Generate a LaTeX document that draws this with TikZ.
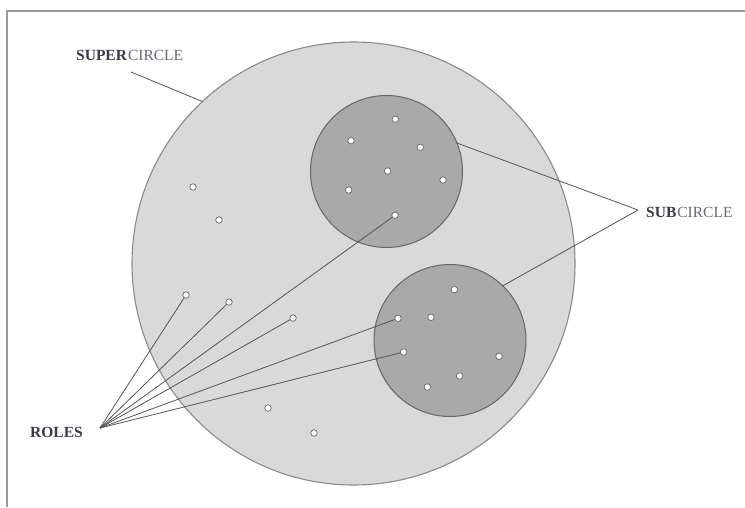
\documentclass[tikz,border=0pt]{standalone}
\usepackage{fontspec}
\setmainfont{Liberation Serif}
\usetikzlibrary{shapes.geometric}
\definecolor{bigfill}{HTML}{D9D9D9}
\definecolor{bigline}{HTML}{8A8A8A}
\definecolor{subfill}{HTML}{A9A9A9}
\definecolor{subline}{HTML}{666666}
\definecolor{leader}{HTML}{555555}
\definecolor{txt}{HTML}{3A3A48}
\definecolor{txtlight}{HTML}{6A6A78}
\definecolor{frame}{HTML}{9A9A9A}
\tikzset{
  bigcirc/.style={circle, draw=bigline, fill=bigfill, line width=1.1pt, inner sep=0pt, outer sep=0pt, minimum size=443pt},
  subcirc/.style={circle, draw=subline, fill=subfill, line width=1pt, inner sep=0pt, outer sep=0pt, minimum size=152pt},
  role/.style={circle, draw=subline, fill=white, line width=0.7pt, inner sep=0pt, minimum size=6.5pt},
  lead/.style={draw=leader, line width=0.8pt},
  lbl/.style={inner sep=0pt, font=\fontsize{15.5}{15.5}\selectfont, text=txtlight},
  framestyle/.style={draw=frame, line width=1.6pt}
}
\begin{document}
\begin{tikzpicture}[x=1pt,y=-1pt]
\useasboundingbox (0,0) rectangle (745,507);
\fill[white] (0,0) rectangle (745,507);
\draw[framestyle] (7,507) -- (7,11) -- (745,11);
% circles
\node[bigcirc] (big) at (353.5,263.5) {};
\node[subcirc] (s1) at (386.5,171.5) {};
\node[subcirc] (s2) at (450,340.5) {};
% labels
\node[lbl, anchor=west] (superlbl) at (76,55) {\textbf{\textcolor{txt}{SUPER}}\kern1pt CIRCLE};
\node[lbl, anchor=west] (sublbl) at (646,212) {\textbf{\textcolor{txt}{SUB}}\kern1pt CIRCLE};
\node[lbl, anchor=west, text=txt] (roleslbl) at (30,432) {\textbf{ROLES}};
\coordinate (superpt) at (131,72);
\coordinate (subpt) at (638,210);
\coordinate (rolept) at (100,428);
% dots in big circle
\node[role] (b1) at (193,187) {};
\node[role] (b2) at (219,220) {};
\node[role] (b3) at (186,295) {};
\node[role] (b4) at (229,302) {};
\node[role] (b5) at (293,318) {};
\node[role] (b6) at (268,408) {};
\node[role] (b7) at (314,433) {};
% dots in sub circle 1
\node[role] (u1) at (395.3,119.3) {};
\node[role] (u2) at (351,140.7) {};
\node[role] (u3) at (420.3,147.3) {};
\node[role] (u4) at (387.7,171) {};
\node[role] (u5) at (443,180) {};
\node[role] (u6) at (348.7,190) {};
\node[role] (u7) at (395,215.3) {};
% dots in sub circle 2
\node[role] (v1) at (454.3,289.7) {};
\node[role] (v2) at (398,318.3) {};
\node[role] (v3) at (431,317.3) {};
\node[role] (v4) at (403.7,352) {};
\node[role] (v5) at (499,356.3) {};
\node[role] (v6) at (459.7,376) {};
\node[role] (v7) at (427.3,387) {};
% leaders
\draw[lead] (superpt) -- (big.133.4);
\draw[lead] (subpt) -- (s1.22);
\draw[lead] (subpt) -- (s2.46);
\foreach \d in {b3,b4,b5,u7,v2,v4}
  \draw[lead] (rolept) -- (\d);
\end{tikzpicture}
\end{document}
